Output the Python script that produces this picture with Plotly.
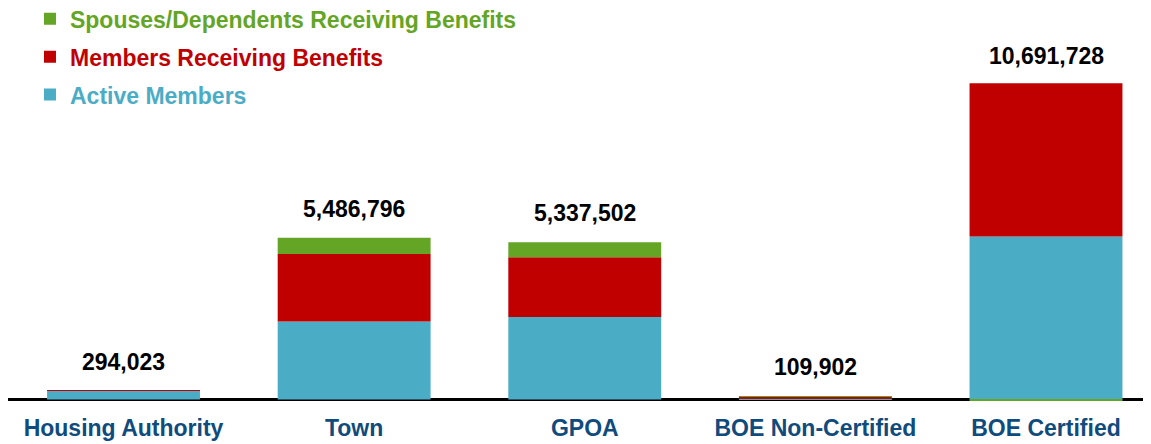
import plotly.graph_objects as go

categories = ["Housing Authority", "Town", "GPOA", "BOE Non-Certified", "BOE Certified"]
active_members = [291000, 2650000, 2800000, 40000, 5530000]
members_receiving = [3023, 2285000, 2030000, 50000, 5201728]
spouses_dependents = [0, 551796, 507502, 19902, -40000]
totals = [294023, 5486796, 5337502, 109902, 10691728]
total_labels = [f"{v:,}" for v in totals]

GREEN = "#64A526"
RED = "#C00000"
BLUE = "#4BACC6"
AXIS_BLUE = "#0F4B7C"
FONT = "Liberation Sans, Arial, sans-serif"

fig = go.Figure()
fig.add_trace(go.Bar(x=categories, y=active_members, name="Active Members",
                     marker=dict(color=BLUE, line=dict(width=0)), legendgroup="a",
                     legendrank=3))
fig.add_trace(go.Bar(x=categories, y=members_receiving, name="Members Receiving Benefits",
                     marker=dict(color=RED, line=dict(width=0)), legendgroup="b",
                     legendrank=2))
fig.add_trace(go.Bar(x=categories, y=spouses_dependents, name="Spouses/Dependents Receiving Benefits",
                     marker=dict(color=GREEN, line=dict(width=0)), legendgroup="c",
                     legendrank=1))

for cat, tot, lab in zip(categories, totals, total_labels):
    fig.add_annotation(x=cat, y=tot, text=f"<b>{lab}</b>", showarrow=False,
                       yanchor="middle", yshift=29,
                       font=dict(family=FONT, size=23, color="#000000"))

fig.update_layout(
    width=1151, height=444,
    barmode="relative", bargap=0.337,
    plot_bgcolor="white", paper_bgcolor="white",
    margin=dict(l=0, r=0, t=0, b=50, autoexpand=False),
    showlegend=True,
    legend=dict(x=0.0191, y=1.027, xanchor="left", yanchor="top",
                bgcolor="rgba(0,0,0,0)", tracegroupgap=5,
                font=dict(family=FONT, size=23)),
    xaxis=dict(range=[-0.5009, 4.49], showgrid=False, showline=False, ticks="",
               ticklabelstandoff=10,
               tickfont=dict(family=FONT, size=23, color=AXIS_BLUE, weight="bold")),
    yaxis=dict(range=[-85000, 13290000], showgrid=False, showticklabels=False,
               zeroline=True, zerolinecolor="#000000", zerolinewidth=3,
               layer="above traces"),
)

# colored, bold legend text
for tr, col in zip(fig.data, [BLUE, RED, GREEN]):
    tr.name = f"<b><span style='color:{col}'>{tr.name}</span></b>"

fig.write_html("out.html")
